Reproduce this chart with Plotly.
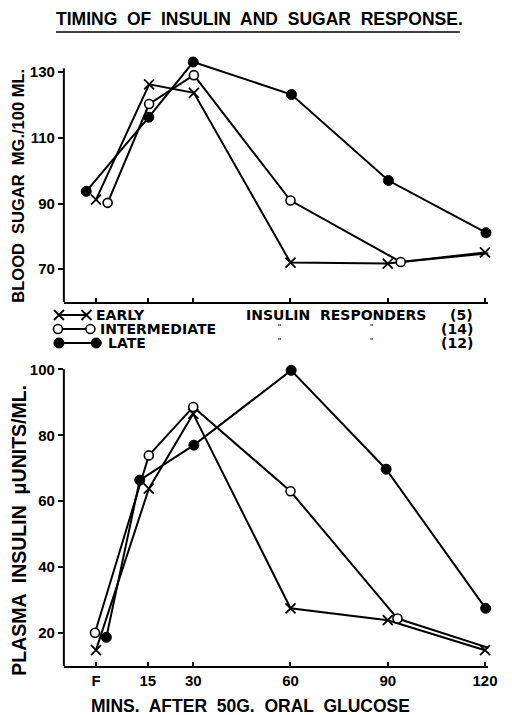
import plotly.graph_objects as go

W, H = 512, 715

# ---------------- data ----------------
tick_labels = ["F", "15", "30", "60", "90", "120"]
tick_minutes = [0, 16, 30, 60, 90, 120]

sugar_ticks = [70, 90, 110, 130]
insulin_ticks = [20, 40, 60, 80, 100]

# Blood sugar mg/100 ml
sugar_early_x = [0, 16.4, 30.2, 60, 90, 120]
sugar_early = [91.2, 126.3, 123.7, 72.0, 71.7, 75.1]
sugar_inter_x = [3.6, 16.4, 30.2, 60, 94, 123.6]
sugar_inter = [90.2, 120.3, 129.1, 90.9, 72.2, 75.1]
sugar_late_x = [-3, 16.3, 30, 60.3, 90.2, 120.3]
sugar_late = [93.7, 116.3, 133.1, 123.2, 97.0, 81.1]

# Plasma insulin microunits/ml
insulin_early_x = [0, 16.3, 30, 60, 90, 120]
insulin_early = [14.8, 63.8, 86.5, 27.5, 23.9, 14.8]
insulin_inter_x = [-0.3, 16.3, 30, 60, 93, 123.3]
insulin_inter = [20.1, 73.9, 88.6, 63.0, 24.4, 14.8]
insulin_late_x = [3.2, 13.5, 30.2, 60.2, 89.5, 120.2]
insulin_late = [18.7, 66.4, 77.0, 99.7, 69.7, 27.5]

groups = ["EARLY", "INTERMEDIATE", "LATE"]
group_counts = ["(5)", "(14)", "(12)"]

# ---------------- styling ----------------
FONT = "Liberation Sans, Arial, sans-serif"
WIDE = "DejaVu Sans, Liberation Sans, sans-serif"
BLACK = "black"


def px(x):
    return x / W


def py(y):
    return 1 - y / H


marker_styles = {
    "EARLY": dict(symbol="x-thin-open", size=10, color=BLACK, line=dict(color=BLACK, width=1.8)),
    "INTERMEDIATE": dict(symbol="circle", size=9, color="white", line=dict(color=BLACK, width=1.6)),
    "LATE": dict(symbol="circle", size=10, color=BLACK, line=dict(color=BLACK, width=1)),
}

fig = go.Figure()

top_series = [
    ("EARLY", sugar_early_x, sugar_early),
    ("INTERMEDIATE", sugar_inter_x, sugar_inter),
    ("LATE", sugar_late_x, sugar_late),
]
bottom_series = [
    ("EARLY", insulin_early_x, insulin_early),
    ("INTERMEDIATE", insulin_inter_x, insulin_inter),
    ("LATE", insulin_late_x, insulin_late),
]

for series, xa, ya in [(top_series, "x", "y"), (bottom_series, "x2", "y2")]:
    for name, xs, ys in series:
        fig.add_trace(go.Scatter(x=xs, y=ys, mode="lines", line=dict(color=BLACK, width=2),
                                 xaxis=xa, yaxis=ya, showlegend=False, cliponaxis=False,
                                 hoverinfo="skip"))
    for name, xs, ys in series:
        fig.add_trace(go.Scatter(x=xs, y=ys, mode="markers", marker=marker_styles[name],
                                 xaxis=xa, yaxis=ya, showlegend=False, cliponaxis=False,
                                 name=name))

# legend key symbols on a hidden pixel-space axis
legend_rows_y = [315, 329, 343]
legend_sym_x = [(60, 88), (59, 92), (60, 98)]
for name, yrow, (x0, x1) in zip(groups, legend_rows_y, legend_sym_x):
    fig.add_trace(go.Scatter(x=[x0, x1], y=[yrow, yrow], mode="lines+markers",
                             line=dict(color=BLACK, width=2), marker=marker_styles[name],
                             xaxis="x3", yaxis="y3", showlegend=False, cliponaxis=False,
                             hoverinfo="skip"))

# ---------------- layout ----------------
x_left, x_right = 65, 497
min_to_px = 3.3
f_px = 97.7
x_range = [(x_left - f_px) / min_to_px, (x_right - f_px) / min_to_px]

top_range = [60, 136]
top_scale = 3.283
top_bottom_px = 302
top_dom = [py(top_bottom_px), py(top_bottom_px - (top_range[1] - top_range[0]) * top_scale)]

bot_range = [10, 104]
bot_scale = 3.296
bot_bottom_px = 666
bot_dom = [py(bot_bottom_px), py(bot_bottom_px - (bot_range[1] - bot_range[0]) * bot_scale)]

tickfont = dict(family=FONT, size=15, color=BLACK, weight="bold")
x_common = dict(showgrid=False, zeroline=False, showline=True, linecolor=BLACK, linewidth=2,
                tickfont=tickfont, tickcolor=BLACK, tickwidth=2)
y_common = dict(showgrid=False, zeroline=False, showline=False,
                tickfont=tickfont, tickcolor=BLACK, tickwidth=2)

fig.update_layout(
    width=W, height=H, margin=dict(l=0, r=0, t=0, b=0),
    paper_bgcolor="white", plot_bgcolor="rgba(0,0,0,0)",
    showlegend=False,
    xaxis=dict(domain=[px(x_left), px(x_right)], range=x_range, anchor="y",
               tickvals=tick_minutes, ticktext=tick_labels, showticklabels=False,
               ticks="inside", ticklen=4, **x_common),
    yaxis=dict(domain=top_dom, range=top_range, anchor="x", tickvals=sugar_ticks,
               ticks="outside", ticklen=5, **y_common),
    xaxis2=dict(domain=[px(x_left), px(x_right)], range=x_range, anchor="y2",
                tickvals=tick_minutes, ticktext=tick_labels,
                ticks="inside", ticklen=4, **x_common),
    yaxis2=dict(domain=bot_dom, range=bot_range, anchor="x2", tickvals=insulin_ticks,
                ticks="outside", ticklen=5, **y_common),
    xaxis3=dict(domain=[0, 1], range=[0, W], visible=False, anchor="y3"),
    yaxis3=dict(domain=[0, 1], range=[H, 0], visible=False, anchor="x3"),
)

# y-axis lines only up to the top tick region, as in the original
fig.add_shape(type="line", xref="x domain", yref="y", x0=0, x1=0, y0=60, y1=131.2,
              line=dict(color=BLACK, width=2))
fig.add_shape(type="line", xref="x2 domain", yref="y2", x0=0, x1=0, y0=10, y1=100,
              line=dict(color=BLACK, width=2))

ann = []


def text(t, x, y, size, xanchor="left", angle=0, family=FONT):
    ann.append(dict(text=t, x=px(x), y=py(y), xref="paper", yref="paper", showarrow=False,
                    xanchor=xanchor, yanchor="middle", textangle=angle,
                    font=dict(family=family, size=size, color=BLACK)))


text("<b>TIMING  OF  INSULIN  AND  SUGAR  RESPONSE.</b>", 264, 19, 17.5, "center")
text("<b>BLOOD  SUGAR  MG./100 ML.</b>", 18, 186, 16.5, "center", -90)
text("<b>PLASMA  INSULIN  μUNITS/ML.</b>", 19, 530, 19.5, "center", -90)
text("<b>MINS.  AFTER  50G.  ORAL  GLUCOSE</b>", 255, 706, 17.5, "center")

LEG = 14
text("<b>EARLY</b>", 96, 315, LEG, family=WIDE)
text("<b>INTERMEDIATE</b>", 100, 329, LEG, family=WIDE)
text("<b>LATE</b>", 108, 343, LEG, family=WIDE)
text("<b>INSULIN  RESPONDERS</b>", 248, 315, LEG, family=WIDE)
for yrow, cnt in zip(legend_rows_y, group_counts):
    text("<b>" + cnt + "</b>", 483, yrow, LEG, "right", family=WIDE)
for yrow in legend_rows_y[1:]:
    text('"', 285, yrow - 2, 9, "center")
    text('"', 378, yrow - 2, 9, "center")

fig.update_layout(annotations=ann)
fig.add_shape(type="line", xref="paper", yref="paper", x0=px(57), x1=px(468), y0=py(32), y1=py(32),
              line=dict(color=BLACK, width=1.5))

fig.write_html("out.html")
